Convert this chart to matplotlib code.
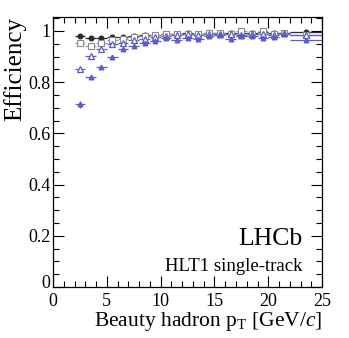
import numpy as np
import matplotlib.pyplot as plt
import matplotlib.transforms as mtransforms

plt.rcParams['font.family'] = ['Liberation Serif', 'DejaVu Serif']
plt.rcParams['mathtext.fontset'] = 'custom'
plt.rcParams['mathtext.rm'] = 'Liberation Serif'
plt.rcParams['mathtext.it'] = 'Liberation Serif:italic'

# bin centres and half-widths (GeV/c)
pt = [2.5, 3.5, 4.5, 5.5, 6.5, 7.5, 8.5, 9.5, 10.5, 11.5, 12.5, 13.5, 14.5,
      15.5, 16.5, 17.5, 18.5, 19.5, 20.5, 21.5, 23.5]
pt_err = [0.5] * 20 + [1.5]

eff_circle = [0.979, 0.973, 0.974, 0.978, 0.975, 0.980, 0.983, 0.986, 0.988,
              0.990, 0.991, 0.990, 0.991, 0.991, 0.992, 0.991, 0.991, 0.997,
              0.994, 0.994, 0.995]
eff_square = [0.952, 0.942, 0.952, 0.965, 0.969, 0.976, 0.980, 0.985, 0.988,
              0.989, 0.990, 0.988, 0.991, 0.992, 0.990, 0.999, 0.990, 0.999,
              0.990, 0.994, 0.985]
eff_open_tri = [0.850, 0.902, 0.930, 0.948, 0.954, 0.963, 0.970, 0.976, 0.982,
                0.985, 0.987, 0.986, 0.988, 0.989, 0.988, 0.986, 0.987, 0.990,
                0.985, 0.992, 0.983]
eff_full_tri = [0.713, 0.821, 0.858, 0.900, 0.928, 0.942, 0.953, 0.961, 0.974,
                0.966, 0.972, 0.969, 0.981, 0.983, 0.967, 0.982, 0.981, 0.972,
                0.976, 0.988, 0.963]
err_full_tri = [0.015, 0.008, 0.006, 0.005, 0.004, 0.004, 0.003, 0.003, 0.003,
                0.003, 0.003, 0.003, 0.003, 0.003, 0.003, 0.003, 0.003, 0.003,
                0.003, 0.003, 0.003]

fig = plt.figure(figsize=(3.49, 3.38), dpi=100)
ax = fig.add_axes([0.152, 0.151, 0.771, 0.799])

blue = '#5a5ad8'
ax.errorbar(pt, eff_circle, xerr=pt_err, yerr=0.002, fmt='o', color='#2b2b2b',
            ms=3.3, lw=0.9, capsize=0)
ax.errorbar(pt, eff_square, xerr=pt_err, yerr=0.003, fmt='s', color='#9a9a9a',
            mfc='white', mec='#8a8a8a', ms=3.8, lw=0.9, mew=0.8, capsize=0)
ax.errorbar(pt, eff_open_tri, xerr=pt_err, yerr=0.004, fmt='^', color=blue,
            mfc='white', mec=blue, ms=4.3, lw=0.9, mew=0.9, capsize=0)
ax.errorbar(pt, eff_full_tri, xerr=pt_err, yerr=err_full_tri, fmt='^', color=blue,
            ms=3.3, lw=0.9, capsize=0)

ax.set_xlim(0, 25)
ax.set_ylim(0, 1.055)
ax.set_xticks([0, 5, 10, 15, 20, 25])
ax.set_xticks(np.arange(0, 25.1, 1), minor=True)
ax.set_yticks([0, 0.2, 0.4, 0.6, 0.8, 1.0])
ax.set_yticklabels(['0', '0.2', '0.4', '0.6', '0.8', '1'])
ax.set_yticks(np.arange(0, 1.051, 0.05), minor=True)
ax.tick_params(which='both', direction='in', top=True, right=True, labelsize=13, width=0.8)
ax.tick_params(which='major', length=8)
ax.tick_params(which='minor', length=4)
ax.tick_params(axis='x', pad=4)
ax.tick_params(axis='y', pad=2)
for s in ax.spines.values():
    s.set_linewidth(0.9)

# lift the y "0" a little so it sits just above the x "0"
zero_lbl = ax.get_yticklabels()[0]
zero_lbl.set_transform(zero_lbl.get_transform() +
                       mtransforms.ScaledTranslation(0, 4 / 72, fig.dpi_scale_trans))
zero_lbl.set_verticalalignment('center_baseline')

ax.set_xlabel(r'Beauty hadron p$_{\mathrm{T}}$ [GeV/$\mathit{c}$]', fontsize=15.5, loc='right', labelpad=0)
ax.set_ylabel('Efficiency', fontsize=18, loc='top', labelpad=1)

ax.text(0.926, 0.156, 'LHCb', transform=ax.transAxes, ha='right', va='baseline', fontsize=18.5)
ax.text(0.926, 0.06, 'HLT1 single-track', transform=ax.transAxes, ha='right', va='baseline', fontsize=13.5)

fig.savefig('out.png', dpi=100)
